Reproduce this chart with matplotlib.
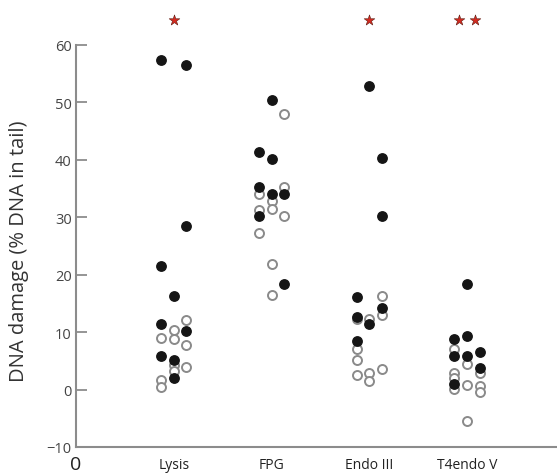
import numpy as np
import matplotlib.pyplot as plt

plt.rcParams['font.family'] = ['Open Sans', 'DejaVu Sans']

groups = ['Lysis', 'FPG', 'Endo III', 'T4endo V']
stars = [1, 0, 1, 2]

# each point: value and its column (-1 left, 0 middle, 1 right) inside the group
lysis_filled = [57.3, 56.5, 28.4, 21.5, 16.3, 11.5, 10.2, 5.9, 5.2, 2.0]
lysis_filled_col = [-1, 1, 1, -1, 0, -1, 1, -1, 0, 0]
lysis_open = [8.9, 10.4, 8.8, 12.1, 7.7, 4.3, 3.2, 3.9, 1.7, 0.5]
lysis_open_col = [-1, 0, 0, 1, 1, 0, 0, 1, -1, -1]

fpg_filled = [50.5, 41.3, 40.1, 35.2, 34.0, 34.0, 30.3, 18.4]
fpg_filled_col = [0, -1, 0, -1, 0, 1, -1, 1]
fpg_open = [48.0, 34.0, 35.2, 32.8, 31.4, 31.3, 30.2, 27.2, 21.8, 16.5]
fpg_open_col = [1, -1, 1, 0, 0, -1, 1, -1, 0, 0]

endo_filled = [52.8, 40.4, 30.3, 16.1, 12.7, 14.2, 11.5, 8.4]
endo_filled_col = [0, 1, 1, -1, -1, 1, 0, -1]
endo_open = [16.3, 12.2, 12.9, 12.3, 7.1, 5.2, 2.5, 2.8, 1.5, 3.6]
endo_open_col = [1, -1, 1, 0, -1, -1, -1, 0, 0, 1]

t4_filled = [18.4, 8.8, 9.3, 5.8, 5.8, 6.5, 3.7, 1.0]
t4_filled_col = [0, -1, 0, -1, 0, 1, 1, -1]
t4_open = [7.0, 2.9, 2.1, 0.05, 0.8, 2.8, 0.7, -0.5, -5.4, 4.5]
t4_open_col = [-1, -1, -1, -1, 0, 1, 1, 1, 0, 0]

filled = [(lysis_filled, lysis_filled_col), (fpg_filled, fpg_filled_col),
          (endo_filled, endo_filled_col), (t4_filled, t4_filled_col)]
opened = [(lysis_open, lysis_open_col), (fpg_open, fpg_open_col),
          (endo_open, endo_open_col), (t4_open, t4_open_col)]

fig = plt.figure(figsize=(5.57, 4.77), dpi=100)
ax = fig.add_axes([0.1364, 0.0608, 0.8636, 0.9392])

dx = 0.13
spine_c = '#8c8c8c'
for i in range(4):
    pos = i + 1
    v, c = opened[i]
    ax.scatter(pos + np.array(c) * dx, v, s=42, facecolor='white',
               edgecolor='#8a8a8a', linewidth=1.4, zorder=2)
    v, c = filled[i]
    ax.scatter(pos + np.array(c) * dx, v, s=46, color='#151515', zorder=3)
    n = stars[i]
    if n:
        sx = pos + (np.arange(n) - (n - 1) / 2) * 0.16
        ax.scatter(sx, [64.4] * n, marker='*', s=65, color='#d42a20',
                   edgecolor='#5a1a10', linewidth=0.4, zorder=4, clip_on=False)

ax.set_xlim(0, 4.92)
ax.set_ylim(-10, 68)
ax.set_yticks(range(-10, 61, 10))
ax.set_yticklabels(['\u221210'] + [str(t) for t in range(0, 61, 10)])
ax.set_xticks([1, 2, 3, 4])
ax.set_xticklabels(groups)
ax.tick_params(axis='y', direction='in', length=8, width=1.3, color=spine_c,
               labelsize=10.5, labelcolor='#444444', pad=3)
ax.tick_params(axis='x', length=0, labelsize=10, labelcolor='#222222', pad=7)
# the lone "0" under the origin
ax.annotate('0', xy=(0, 0), xycoords=('data', 'axes fraction'),
            xytext=(0, -6), textcoords='offset points', ha='center', va='top',
            fontsize=14, color='#222222', annotation_clip=False)

for s in ['top', 'right']:
    ax.spines[s].set_visible(False)
for s in ['left', 'bottom']:
    ax.spines[s].set_color(spine_c)
    ax.spines[s].set_linewidth(1.5)
ax.spines['left'].set_bounds(-10, 60)

ax.set_ylabel('DNA damage (% DNA in tail)', fontsize=14.5, color='#333333')
ax.yaxis.set_label_coords(-0.098, 0.44)

fig.savefig('out.png', dpi=100)
